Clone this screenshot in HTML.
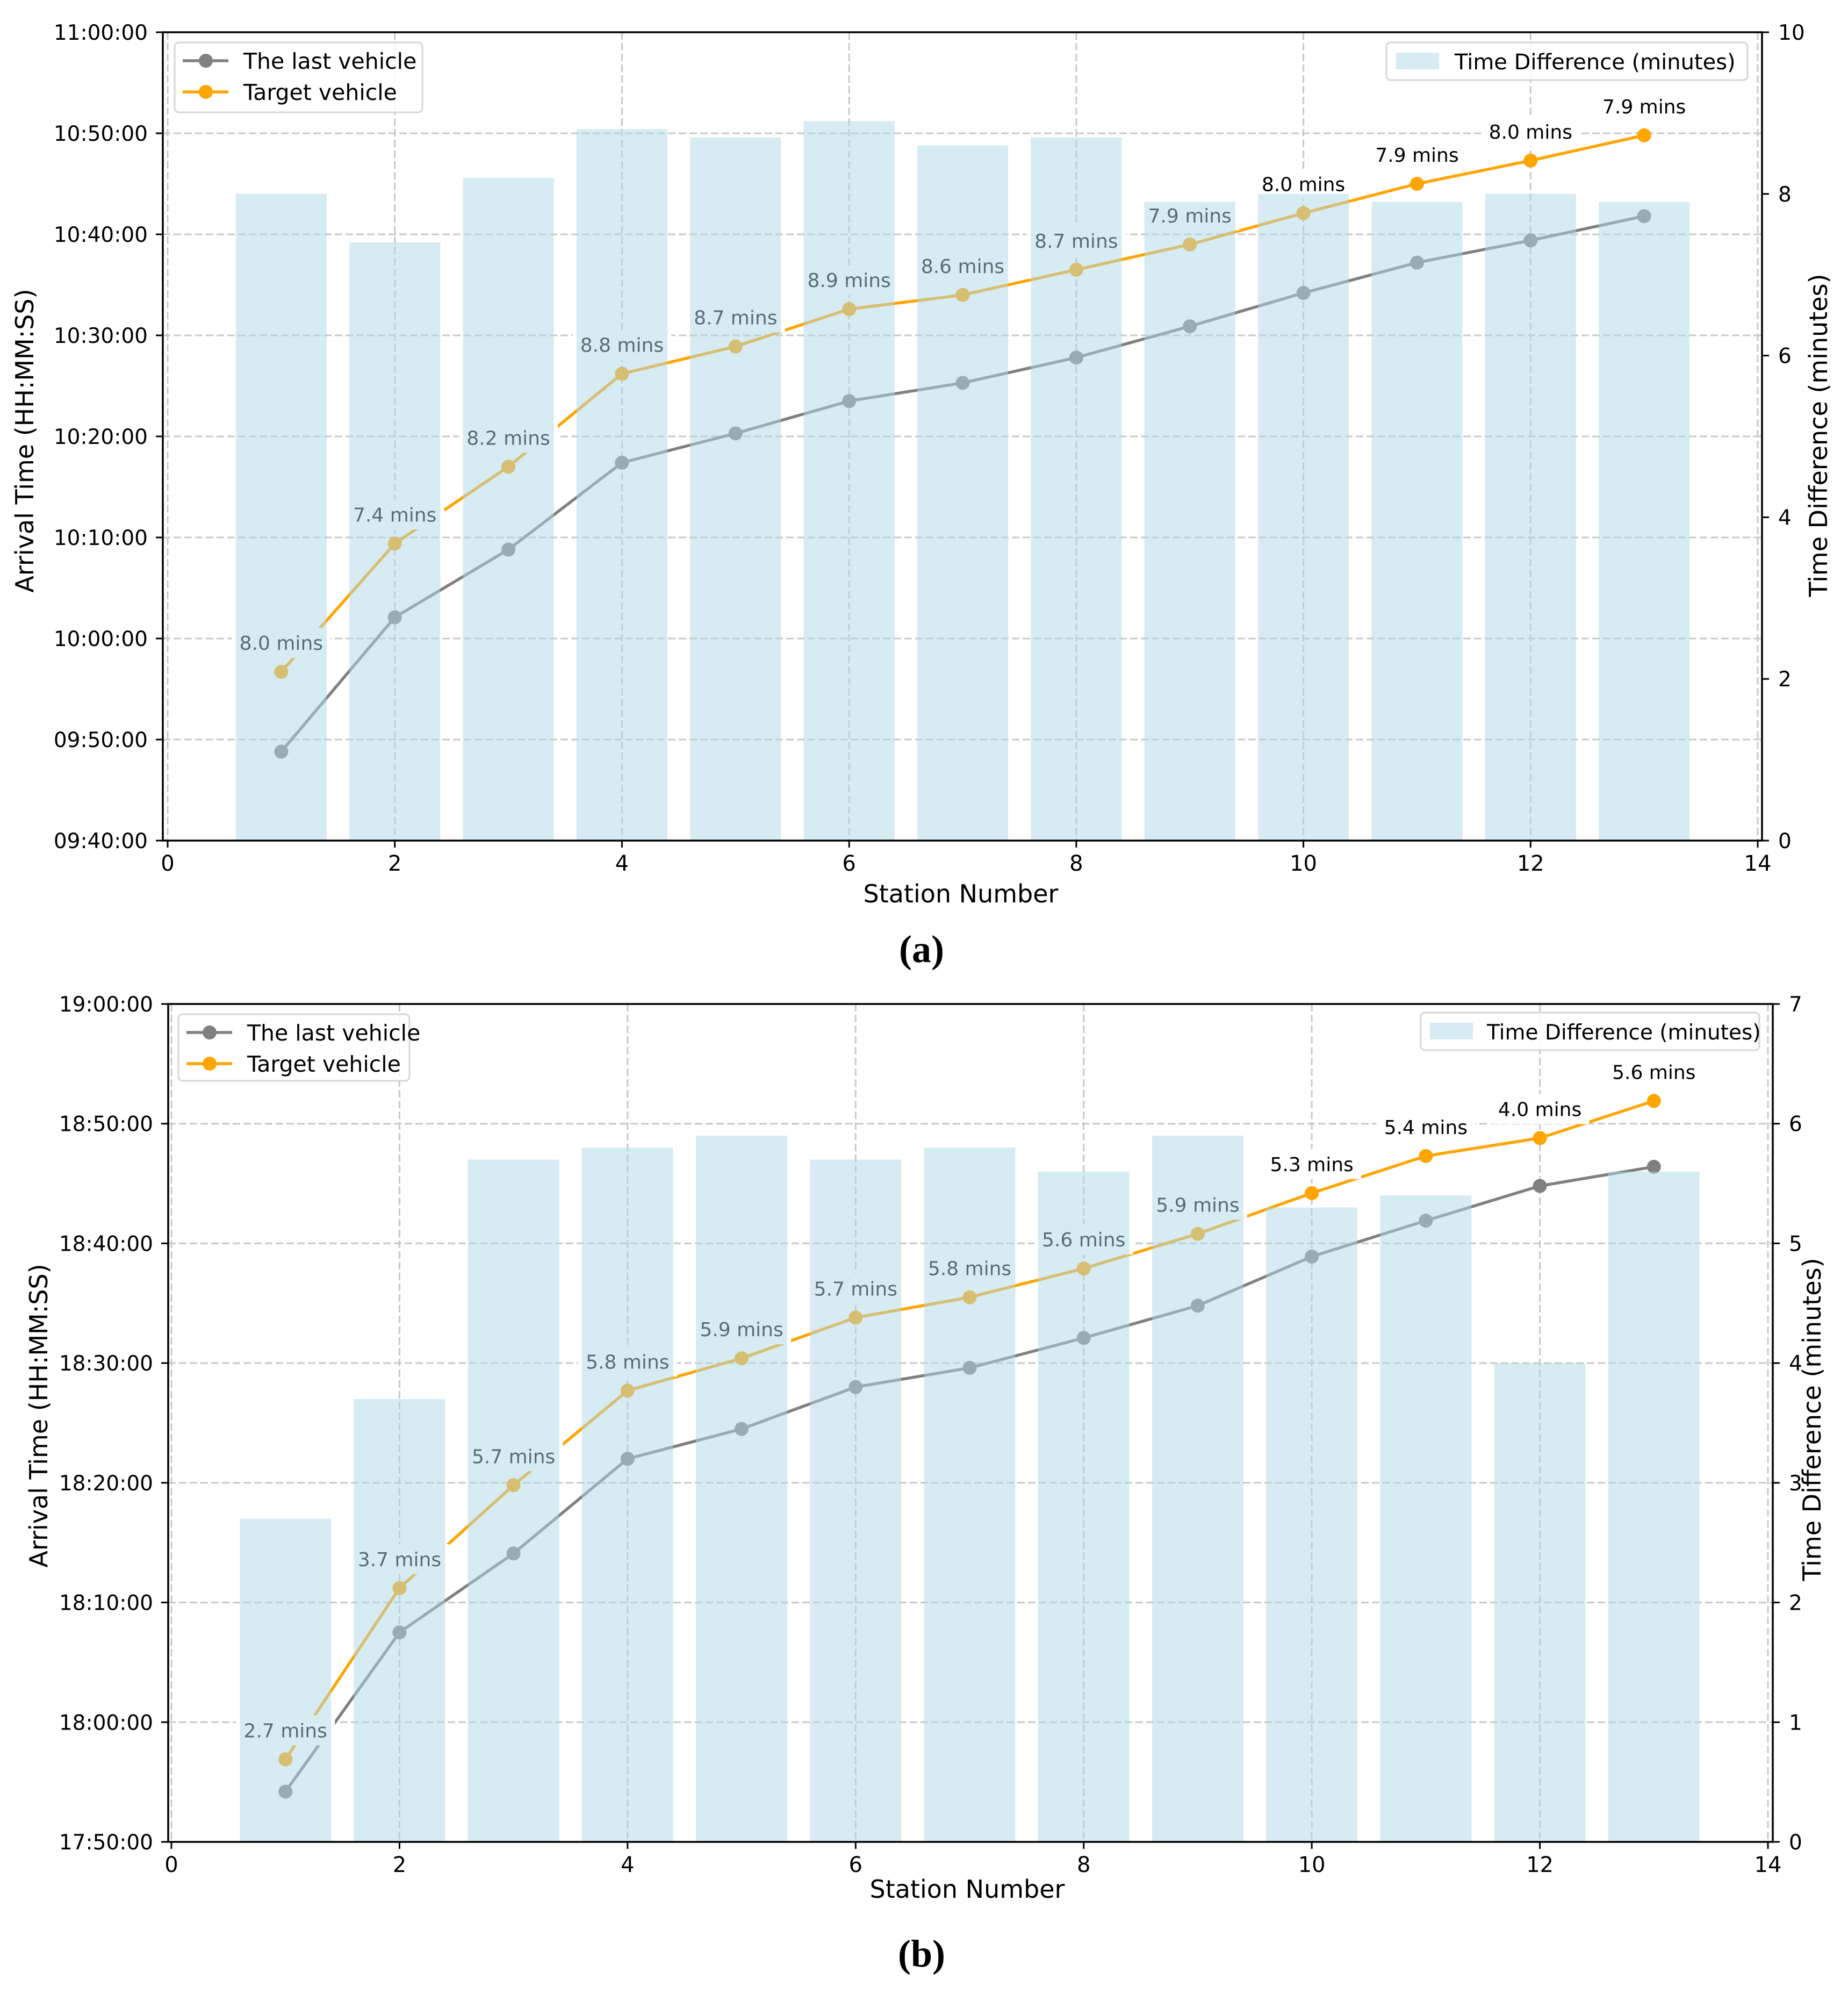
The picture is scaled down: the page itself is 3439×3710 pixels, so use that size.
<!DOCTYPE html>
<html><head><meta charset="utf-8"><style>
html,body{margin:0;padding:0;background:#fff}
svg{display:block}
text{font-family:"DejaVu Sans","Liberation Sans",sans-serif}
</style></head><body>
<svg id="fig" width="3439" height="3710" viewBox="0 0 3439 3710" xmlns="http://www.w3.org/2000/svg"></svg>
<script>
const stations = [1,2,3,4,5,6,7,8,9,10,11,12,13];
const xTicks = [0,2,4,6,8,10,12,14];
// Chart (a)
const aLast = ["09:48:48","10:02:06","10:08:48","10:17:24","10:20:18","10:23:30","10:25:18","10:27:48","10:30:54","10:34:12","10:37:12","10:39:24","10:41:48"];
const aTarget = ["09:56:42","10:09:24","10:17:00","10:26:12","10:28:54","10:32:36","10:34:00","10:36:30","10:39:00","10:42:06","10:45:00","10:47:18","10:49:48"];
const aDiff = [8.0,7.4,8.2,8.8,8.7,8.9,8.6,8.7,7.9,8.0,7.9,8.0,7.9];
const aYTicks = ["09:40:00","09:50:00","10:00:00","10:10:00","10:20:00","10:30:00","10:40:00","10:50:00","11:00:00"];
const aRTicks = [0,2,4,6,8,10];
// Chart (b)
const bLast = ["17:54:12","18:07:30","18:14:06","18:22:00","18:24:30","18:28:00","18:29:36","18:32:06","18:34:48","18:38:54","18:41:54","18:44:48","18:46:24"];
const bTarget = ["17:56:54","18:11:12","18:19:48","18:27:42","18:30:24","18:33:48","18:35:30","18:37:54","18:40:48","18:44:12","18:47:18","18:48:48","18:51:54"];
const bDiff = [2.7,3.7,5.7,5.8,5.9,5.7,5.8,5.6,5.9,5.3,5.4,4.0,5.6];
const bYTicks = ["17:50:00","18:00:00","18:10:00","18:20:00","18:30:00","18:40:00","18:50:00","19:00:00"];
const bRTicks = [0,1,2,3,4,5,6,7];

const NS="http://www.w3.org/2000/svg";
const svg=document.getElementById('fig');
function mk(tag,attrs,parent){const e=document.createElementNS(NS,tag);for(const k in attrs)e.setAttribute(k,attrs[k]);(parent||svg).appendChild(e);return e;}
function sec(s){const p=s.split(':').map(Number);return p[0]*3600+p[1]*60+p[2];}

function chart(cfg){
  const g=mk('g',{});
  
  
  const {L,R,T,B,x0,x14}=cfg;
  const xs=v=>x0+(x14-x0)*v/14;
  const tMin=sec(cfg.yTicks[0]), tMax=sec(cfg.yTicks[cfg.yTicks.length-1]);
  const ys=s=>B-(B-T)*(sec(s)-tMin)/(tMax-tMin);
  const rMax=cfg.rTicks[cfg.rTicks.length-1];
  const yr=v=>B-(B-T)*v/rMax;
  const grid=mk('g',{},g);
  
  
  xTicks.forEach(v=>{mk('line',{x1:xs(v),x2:xs(v),y1:T,y2:B,stroke:'#c8c8c8','stroke-width':3,'stroke-dasharray':'14 6'},grid);});
  cfg.yTicks.forEach(t=>{mk('line',{x1:L,x2:R,y1:ys(t),y2:ys(t),stroke:'#c8c8c8','stroke-width':3,'stroke-dasharray':'14 6'},grid);});
  function series(arr,color,nm){
    const sg=mk('g',{},g);
    
    
    mk('polyline',{points:arr.map((t,i)=>xs(stations[i])+','+ys(t)).join(' '),fill:'none',stroke:color,'stroke-width':5.5},sg);
    arr.forEach((t,i)=>{const c=mk('circle',{cx:xs(stations[i]),cy:ys(t),r:13,fill:color},sg);
      
      });
  }
  series(cfg.last,'#808080','last-vehicle-line');
  series(cfg.target,'#FFA500','target-vehicle-line');
  cfg.target.forEach((t,i)=>{
    const x=xs(stations[i]), y=ys(t)-54;
    const lab=cfg.diff[i].toFixed(1)+' mins';
    mk('rect',{x:x-92,y:y-28,width:184,height:56,fill:'#fff'},g);
    const tx=mk('text',{x:x,y:y+13,'font-size':36,'text-anchor':'middle',fill:'#000'},g);
    tx.textContent=lab;
    
    
  });
  cfg.diff.forEach((v,i)=>{
    const w=(x14-x0)*0.8/14;
    const r=mk('rect',{x:xs(stations[i])-w/2,y:yr(v),width:w,height:B-yr(v),fill:'#add8e6','fill-opacity':0.5},g);
    
    
  });
  mk('rect',{x:L,y:T,width:R-L,height:B-T,fill:'none',stroke:'#000','stroke-width':3.5},g);
  xTicks.forEach(v=>{mk('line',{x1:xs(v),x2:xs(v),y1:B,y2:B+13,stroke:'#000','stroke-width':3},g);
    const t=mk('text',{x:xs(v),y:B+56,'font-size':40,'text-anchor':'middle'},g);t.textContent=v;
    
    });
  cfg.yTicks.forEach(s=>{const y=ys(s);mk('line',{x1:L-13,x2:L,y1:y,y2:y,stroke:'#000','stroke-width':3},g);
    const t=mk('text',{x:L-28,y:y+14,'font-size':39,'text-anchor':'end'},g);t.textContent=s;
    
    });
  cfg.rTicks.forEach(v=>{const y=yr(v);mk('line',{x1:R,x2:R+13,y1:y,y2:y,stroke:'#000','stroke-width':3},g);
    const t=mk('text',{x:R+30,y:y+14,'font-size':39},g);t.textContent=v;
    
    });
  let t=mk('text',{x:cfg.xlab[0],y:cfg.xlab[1],'font-size':46,'text-anchor':'middle'},g);t.textContent='Station Number';
  
  
  t=mk('text',{x:0,y:0,'font-size':46,'text-anchor':'middle',transform:`translate(${cfg.ylab[0]},${cfg.ylab[1]}) rotate(-90)`},g);t.textContent='Arrival Time (HH:MM:SS)';
  
  
  t=mk('text',{x:0,y:0,'font-size':46,'text-anchor':'middle',transform:`translate(${cfg.rlab[0]},${cfg.rlab[1]}) rotate(-90)`},g);t.textContent='Time Difference (minutes)';
  
  
  const lg=mk('g',{},g);
  
  
  const lb=cfg.leg;
  mk('rect',{x:lb[0],y:lb[1],width:lb[2],height:lb[3],rx:8,fill:'#fff','fill-opacity':0.85,stroke:'#d6d6d6','stroke-width':3},lg);
  [['The last vehicle','#808080'],['Target vehicle','#FFA500']].forEach((e,i)=>{
    const y=lb[1]+34+i*58;
    mk('line',{x1:lb[0]+15,x2:lb[0]+100,y1:y,y2:y,stroke:e[1],'stroke-width':5.5},lg);
    mk('circle',{cx:lb[0]+58,cy:y,r:13,fill:e[1]},lg);
    const tt=mk('text',{x:lb[0]+128,y:y+15,'font-size':41},lg);tt.textContent=e[0];
    
    
  });
  const rg=mk('g',{},g);
  
  
  const rb=cfg.rleg;
  mk('rect',{x:rb[0],y:rb[1],width:rb[2],height:rb[3],rx:8,fill:'#fff','fill-opacity':0.85,stroke:'#d6d6d6','stroke-width':3},rg);
  mk('rect',{x:rb[0]+rb[4],y:rb[1]+19,width:80,height:31,fill:'#add8e6','fill-opacity':0.5},rg);
  const rt=mk('text',{x:rb[0]+rb[5],y:rb[1]+50,'font-size':rb[6]},rg);rt.textContent='Time Difference (minutes)';
  
  
  const cp=mk('text',{x:cfg.cap[0],y:cfg.cap[1],'text-anchor':'middle',style:'font-family:"Liberation Serif",serif;font-weight:bold;font-size:72px'},g);
  cp.textContent=cfg.capText;
  
  
}
chart({name:'chart-a',L:303,R:3279,T:60,B:1564,x0:312,x14:3271,last:aLast,target:aTarget,diff:aDiff,yTicks:aYTicks,rTicks:aRTicks,
  xlab:[1788,1679],ylab:[62,820],rlab:[3400,810],leg:[325,79,461,130],rleg:[2580,79,672,70,18,127,40],cap:[1715,1790],capText:'(a)'});
chart({name:'chart-b',L:313,R:3299,T:1868,B:3427,x0:319,x14:3290,last:bLast,target:bTarget,diff:bDiff,yTicks:bYTicks,rTicks:bRTicks,
  xlab:[1800,3531],ylab:[88,2634],rlab:[3388,2641],leg:[332,1887,430,124],rleg:[2644,1884,630,70,17,123,39],cap:[1715,3659],capText:'(b)'});
</script>
</body></html>
